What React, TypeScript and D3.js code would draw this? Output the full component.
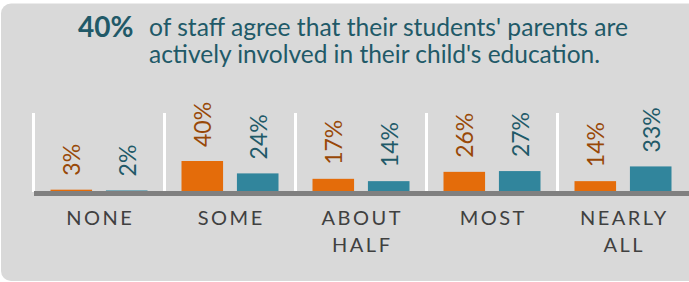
import React from "react";
import * as d3 from "d3";

const categories = ["NONE", "SOME", "ABOUT HALF", "MOST", "NEARLY ALL"];
const categoryLines = [["NONE"], ["SOME"], ["ABOUT", "HALF"], ["MOST"], ["NEARLY", "ALL"]];
const seriesKeys = ["orange", "blue"];
const orangeValues = [3, 40, 17, 26, 14];
const blueValues = [2, 24, 14, 27, 33];
const titleStat = "40%";
const titleLines = [
  "of staff agree that their students' parents are",
  "actively involved in their child's education.",
];

const W = 689;
const H = 282;
const ZERO = 192;

const barColors: Record<string, string> = { orange: "#e46c0a", blue: "#31859c" };
const labelColors: Record<string, string> = { orange: "#984807", blue: "#215968" };

export default function App() {
  const x0 = d3.scaleBand().domain(categories).range([33.5, 33.5 + 131 * 5]);
  const x1 = d3.scaleBand().domain(seriesKeys).range([17, 114]).paddingInner(0.25);
  const y = d3.scaleLinear().domain([0, 40]).range([ZERO, 161]);

  const rows = categories.map((c, i) => ({
    c,
    vals: [
      { k: "orange", v: orangeValues[i] },
      { k: "blue", v: blueValues[i] },
    ],
  }));

  const font = "Lato, 'Open Sans', sans-serif";
  const ls = 2.5;

  return (
    <svg
      width={W}
      height={H}
      style={{ position: "absolute", left: 0, top: 0, display: "block" }}
      fontFamily={font}
    >
      <rect x={0} y={0} width={W} height={H} fill="#ffffff" />
      <rect x={1} y={3.5} width={W + 20} height={277.5} rx={10} fill="#d9d9d9" />

      <text x={133.5} y={36.5} textAnchor="end" fontSize={28} fontWeight={700} fill="#215968">
        {titleStat}
      </text>
      {titleLines.map((t, i) => (
        <text
          key={i}
          x={149}
          y={35.5 + i * 27.5}
          fontSize={25}
          fill="#215968"
          textLength={i === 0 ? 479 : 451}
          lengthAdjust="spacingAndGlyphs"
        >
          {t}
        </text>
      ))}

      {categories.map((c) => (
        <rect key={c} x={(x0(c) as number) - 1.5} y={113} width={3} height={ZERO - 113} fill="#ffffff" />
      ))}

      {rows.map((r) => (
        <g key={r.c} transform={`translate(${x0(r.c)},0)`}>
          {r.vals.map((d) => {
            const bx = x1(d.k) as number;
            const bw = x1.bandwidth();
            const top = y(d.v);
            return (
              <g key={d.k}>
                <rect x={bx} y={top} width={bw} height={ZERO - top} fill={barColors[d.k]} />
                <text
                  transform={`translate(${bx + bw / 2},${top - 14}) rotate(-90)`}
                  dominantBaseline="central"
                  fontSize={23}
                  fill={labelColors[d.k]}
                >
                  {d.v}%
                </text>
              </g>
            );
          })}
        </g>
      ))}

      <rect x={34} y={191} width={W - 34} height={5} fill="#808080" />

      {categoryLines.map((lines, i) => {
        const cx = (x0(categories[i]) as number) + x0.bandwidth() / 2 + ls / 2;
        return (
          <text
            key={i}
            y={225}
            textAnchor="middle"
            fontSize={20}
            letterSpacing={ls}
            fill="#404040"
          >
            {lines.map((l, j) => (
              <tspan key={j} x={cx} dy={j === 0 ? 0 : 26.7}>
                {l}
              </tspan>
            ))}
          </text>
        );
      })}
    </svg>
  );
}
